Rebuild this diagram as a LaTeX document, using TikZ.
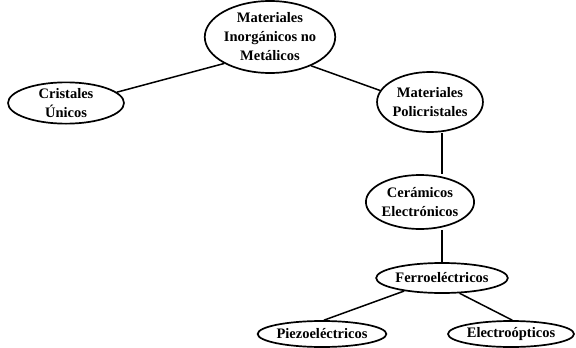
\documentclass[tikz,border=0pt]{standalone}
\usepackage{fontspec}
\setmainfont{Liberation Serif}
\usetikzlibrary{shapes.geometric}
\begin{document}
\begin{tikzpicture}[x=1pt,y=-1pt,
  el/.style={draw, ellipse, line width=1.7pt, inner sep=0pt, align=center, font=\fontsize{14.5}{19}\selectfont\bfseries},
  conn/.style={line width=1.5pt}]
\useasboundingbox (0,0) rectangle (576,348);
\node[el, minimum width=106, minimum height=72] (top) at (270,37) {Materiales\\Inorgánicos no\\Metálicos};
\node[el, minimum width=116, minimum height=40] (cris) at (66,103) {Cristales\\Únicos};
\node[el, minimum width=98, minimum height=60] (poli) at (430,102) {Materiales\\Policristales};
\node[el, minimum width=106, minimum height=54] (cera) at (420,202) {Cerámicos\\Electrónicos};
\node[el, minimum width=130, minimum height=30] (ferro) at (442,278) {Ferroeléctricos};
\node[el, minimum width=122, minimum height=26] (piezo) at (322,334) {Piezoeléctricos};
\node[el, minimum width=126, minimum height=26] (electro) at (511,334) {Electroópticos};
\draw[conn] (top.210) -- (cris.12);
\draw[conn] (top.-35) -- (poli.167);
\draw[conn] (poli.south -| ferro.north) -- (cera.north -| ferro.north);
\draw[conn] (cera.south -| ferro.north) -- (ferro.north);
\draw[conn] (ferro.-161) -- (piezo.82);
\draw[conn] (ferro.-41) -- (electro.85);
\end{tikzpicture}
\end{document}
